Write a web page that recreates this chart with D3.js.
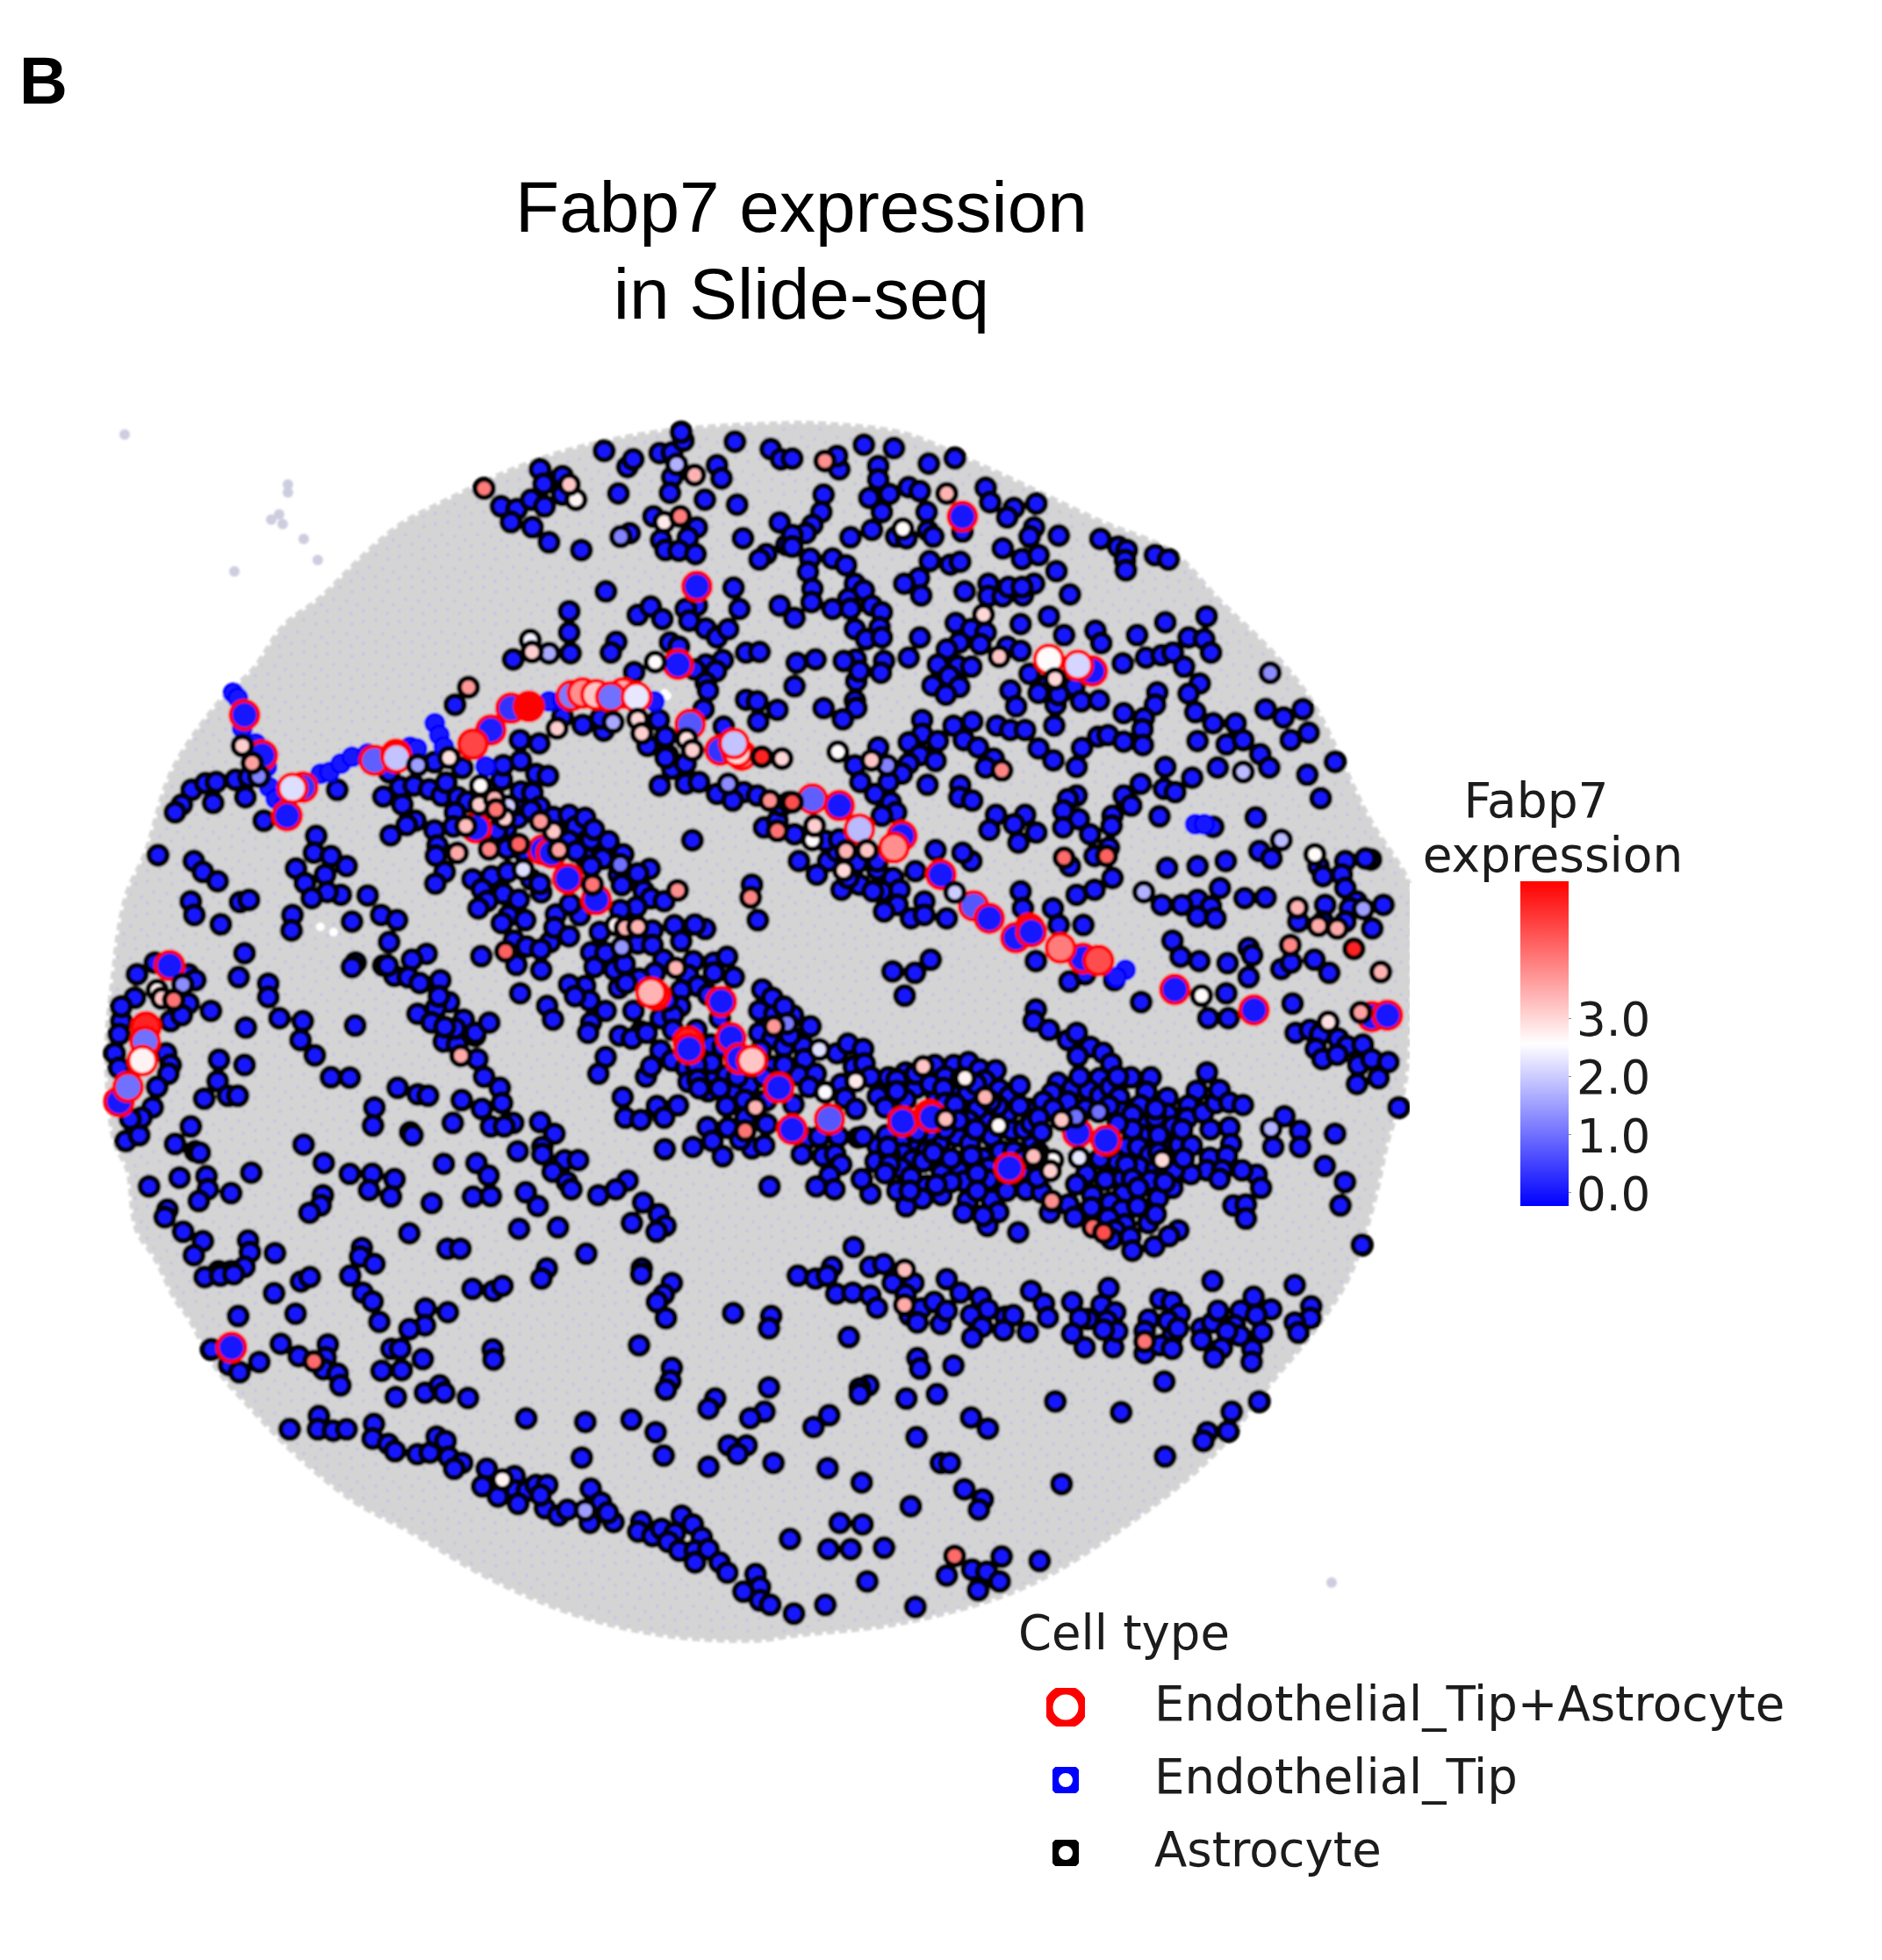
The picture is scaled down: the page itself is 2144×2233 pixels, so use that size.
<!DOCTYPE html>
<html><head><meta charset="utf-8"><style>html,body{margin:0;padding:0;background:#fff}svg{display:block}</style>
<script src="https://cdn.jsdelivr.net/npm/d3@7/dist/d3.min.js"></script></head><body><svg id="c" width="2144" height="2233"></svg>
<script>
// Tissue outline
const tissueOutline=[[900,483],[763,491],[661,510],[590,533],[508,571],[457,598],[416,632],[365,682],[324,713],[289,763],[253,797],[197,878],[166,973],[146,1016],[136,1060],[131,1100],[122,1200],[131,1300],[146,1333],[156,1400],[177,1433],[202,1483],[215,1500],[246,1557],[292,1610],[338,1657],[404,1710],[465,1743],[557,1797],[659,1840],[761,1863],[863,1868],[900,1863],[1034,1847],[1168,1807],[1279,1740],[1382,1657],[1449,1573],[1503,1507],[1538,1450],[1565,1367],[1580,1300],[1600,1233],[1606,1060],[1606,1012],[1558,931],[1497,805],[1456,751],[1390,686],[1334,629],[1252,594],[1155,548],[1104,525],[1028,494],[925,483]];
const strayBeads=[[142,495],[328,552],[328,561],[318,586],[309,592],[322,597],[346,614],[362,638],[267,651],[1517,1803]];
const tissueGaps=[[760,793],[757,790],[365,1056],[380,1062],[1530,1340],[1080,1340]];

// Cell positions per photographed area (crop-read coordinates)
const astroA=[[1153,140],[1205,188],[1218,165],[1277,147],[1305,145],[1330,110],[1325,85],[1445,113],[1525,135],[1548,165],[1405,183],[1415,222],[1305,218],[1300,265],[1185,267],[1378,285],[1450,300],[1010,195],[1018,238],[1060,215],[1060,270],[923,305],[958,313],[990,285],[1020,305],[945,352],[993,367],[1030,412],[1102,435],[1263,335],[1360,368],[1340,398],[1280,405],[1290,435],[1320,437],[1357,447],[1463,400],[1515,447],[1500,463],[1545,353],[1210,385],[1560,420],[1157,558],[1442,547],[1455,610],[1360,600],[1335,610],[1075,617],[1075,680],[1078,742],[1228,628],[1257,603],[1283,640],[1343,645],[1380,668],[1405,695],[1430,670],[1545,600],[1568,635],[1180,708],[1168,740],[950,760],[1300,710],[1320,722],[1470,740],[1500,738],[1380,775],[1418,762],[1355,790],[1403,795],[1380,830],[1385,853],[1220,798],[1470,880],[1495,885],[1540,910],[1497,945],[1375,908],[1568,840],[1420,960],[820,895],[1060,930],[1105,955],[1152,972],[1145,935],[1008,1010],[965,1000],[1250,1017],[1275,940],[1290,990],[1295,1045],[1305,1085],[1335,1070],[1275,1135],[1335,1130],[1365,1125],[1405,1160],[1465,1155],[1440,1180],[1495,1165],[1510,1260],[1540,1240],[1550,1195],[1350,1298],[232,1148],[263,1128],[287,1125],[330,1118],[360,1110],[352,1170],[280,1187],[210,1192],[195,1215],[393,1240],[557,1148],[773,1065],[745,1110],[715,1105],[688,1140],[660,1168],[700,1190],[690,1130],[755,1135],[800,1130],[840,1090],[930,1075],[968,1062],[1005,1100],[1025,1107],[965,1155],[925,1160],[785,1165],[820,1165],[735,1240],[700,1260],[675,1290],[775,1270],[820,1220],[770,1215],[775,1340],[780,1425],[798,1395],[857,1415],[900,1410],[882,1445],[938,1395],[960,1475],[895,1480],[870,1505],[940,1530],[980,1540],[1040,1520],[1075,1490],[1130,1540],[1010,1200],[965,1275],[1000,1290],[1075,1225],[1115,1240],[1130,1270],[1160,1305],[1075,1305],[1140,1355],[1040,1405],[990,1420],[1190,1425],[1215,1370],[1255,1385],[1230,1415],[1260,1470],[1225,1500],[1195,1510],[1290,1480],[1305,1540],[157,1342],[237,1360],[257,1392],[290,1420],[230,1480],[238,1520],[340,1482],[360,1475],[297,1548],[457,1520],[465,1382],[485,1425],[530,1400],[510,1285],[505,1335],[543,1345],[578,1375],[565,1460],[535,1452],[625,1462],[590,1540],[655,1520],[690,1540],[500,1470],[1500,1520],[1483,1430],[1010,1160],[1065,1180],[1185,1310],[1100,1350],[1130,1400],[1160,1440],[1100,1440],[1040,1460],[1010,1340],[850,1360],[930,1340],[1020,1500],[1260,1430],[1200,1470],[1340,1540],[1020,1380]];
const astroB=[[165,122],[232,132],[310,178],[368,162],[197,185],[110,195],[105,155],[5,163],[197,225],[75,270],[177,280],[222,268],[265,248],[290,260],[437,250],[447,293],[550,297],[500,310],[485,338],[205,322],[305,322],[70,322],[50,360],[35,385],[5,390],[5,425],[183,375],[135,397],[237,395],[260,400],[308,378],[320,395],[385,380],[545,368],[535,395],[600,392],[475,430],[518,462],[555,450],[693,402],[733,425],[752,435],[748,465],[750,495],[815,450],[845,463],[595,498],[625,567],[45,460],[95,460],[125,480],[40,500],[145,535],[50,550],[165,555],[48,590],[95,610],[130,580],[135,610],[183,600],[205,620],[145,670],[200,665],[170,700],[205,695],[10,637],[290,695],[312,468],[358,478],[380,470],[288,518],[255,535],[293,570],[390,558],[443,535],[443,572],[475,573],[488,545],[520,570],[545,535],[518,545],[578,632],[515,655],[370,652],[405,670],[437,680],[425,715],[378,710],[350,730],[485,722],[515,735],[330,775],[375,780],[405,782],[355,810],[318,838],[378,842],[348,865],[265,755],[210,765],[203,800],[147,760],[120,765],[148,825],[155,795],[57,760],[15,770],[10,840],[145,883],[75,905],[148,905],[118,938],[612,688],[682,675],[695,712],[775,688],[838,650],[930,632],[890,695],[925,700],[940,740],[743,772],[795,755],[830,748],[855,740],[880,782],[535,803],[635,840],[575,835],[555,860],[492,852],[505,900],[593,895],[600,865],[650,885],[690,882],[590,957],[915,832],[890,862],[905,917],[820,858],[815,895],[745,920],[790,935],[787,968],[788,1015],[945,950],[995,950],[910,1003],[975,1013],[1012,1000],[1050,1042],[1070,1082],[1062,908],[1102,933],[1145,908],[1158,978],[1118,1000],[1217,1065],[1155,1103],[1185,1173],[295,940],[365,957],[407,945],[295,982],[265,1007],[330,1003],[388,1000],[420,1022],[462,957],[492,970],[525,970],[555,1025],[588,1060],[640,1080],[652,1023],[688,990],[710,985],[745,1005],[455,1055],[437,1082],[197,1022],[290,1045],[325,1062],[265,1070],[145,1075],[250,1100],[157,1125],[190,1160],[220,1125],[225,1185],[237,1215],[205,1225],[307,1133],[380,1135],[378,1170],[407,1180],[838,1080],[835,1145],[860,1155],[783,1130],[898,1112],[955,1082],[640,1165],[620,1175],[645,1235],[610,1210],[610,1260],[670,1280],[745,1165],[762,1195],[720,1225],[718,1255],[825,1227],[945,1258],[1040,1230],[712,1320],[460,1222],[525,1222],[500,1250],[445,1268],[550,1275],[510,1305],[325,1327],[405,1360],[385,1335],[625,1375],[680,1345],[720,1410],[680,1445],[640,1460],[842,1380],[910,1375],[973,1360],[1048,1330],[1075,1352],[1180,1375],[1190,1405],[1240,1360],[1232,1400],[1297,1355],[1240,1440],[1265,1480],[1285,1352],[20,1360],[85,1360],[105,1330],[10,1280],[80,1300],[110,1295],[150,1365],[195,1385],[230,1410],[280,1390],[115,1445],[155,1430],[205,1450],[245,1445],[195,1360],[240,1490],[270,1530],[300,1480],[350,1530],[185,1450],[515,1450],[520,1500],[587,1500],[655,1550],[600,1550],[960,1440],[910,1475],[875,1490],[830,1490],[940,1495],[910,1525],[1015,1470],[1062,1468],[950,1530],[1135,1540],[1195,1490],[1250,1500],[1325,1490],[1190,1540],[1240,1540],[1300,1560],[60,1400],[130,1410],[300,1520],[210,1510]];
const astroC=[[455,180],[350,258],[337,340],[403,362],[403,408],[275,455],[428,480],[353,512],[480,490],[475,555],[507,607],[597,505],[293,622],[350,640],[543,682],[585,683],[290,695],[260,755],[313,745],[335,745],[230,850],[195,910],[240,935],[250,940],[85,900],[115,880],[110,330],[105,410],[75,490],[70,535],[150,290],[225,330],[240,350],[225,430],[185,490],[210,470],[60,600],[70,650],[175,600],[185,640],[180,670],[155,715],[145,785],[120,820],[95,825],[75,440],[598,290],[590,305],[660,300],[690,335],[725,275],[755,255],[740,360],[720,340],[785,350],[780,405],[805,430],[735,465],[770,475],[800,490],[840,490],[820,520],[895,495],[865,540],[795,560],[825,570],[870,620],[885,680],[920,718],[925,770],[880,790],[900,850],[950,838],[930,850],[1010,835],[1042,875],[960,935],[1015,920],[1015,945],[1065,965],[1095,965],[1038,1005],[1070,1040],[1080,1065],[1140,1085],[1180,1065],[1205,1035],[1240,1110],[1275,1150],[1290,1190],[1270,1210],[1215,1180],[692,718],[737,740],[760,745],[835,760],[815,838],[640,785],[637,847],[720,870],[725,880],[482,912],[527,975],[585,1012],[635,1012],[685,1030],[628,1068],[677,1090],[768,1112],[795,978],[868,975],[895,1018],[860,1090],[900,1088],[978,1075],[1005,1122],[963,1200],[1050,1195],[525,1085],[520,1120],[495,1145],[205,1025],[265,1020],[268,1065],[248,1105],[320,1078],[365,1008],[137,1055],[178,1135],[172,1160],[213,1210],[257,1242],[237,1290],[358,1240],[362,1280],[350,1330],[320,1345],[292,1345],[265,1355],[418,1283],[718,1215],[803,1268],[832,1268],[1113,1285],[612,1265],[608,1295],[640,1320],[585,1350],[500,1350],[475,1375],[415,1418],[610,1415],[635,1445],[860,1405],[905,1410],[925,1390],[1025,1335],[1012,1365],[1237,1335],[1305,1385],[1280,1430],[1290,930],[1355,925]];
const astroD=[[745,285],[820,355],[855,330],[920,350],[980,425],[1110,285],[1173,292],[1220,340],[1170,395],[1293,312],[1367,280],[1400,325],[1318,430],[1130,480],[1175,480],[1325,530],[1357,520],[1380,535],[1370,585],[1385,620],[1420,550],[1440,575],[1475,570],[1418,605],[1465,640],[1495,620],[1532,630],[1462,705],[1510,685],[1555,785],[1127,660],[745,450],[740,490],[770,520],[800,510],[820,555],[840,520],[868,575],[890,600],[840,610],[910,630],[1050,215],[1068,270],[1220,240],[1228,265],[1315,290],[425,320],[475,325],[510,280],[452,403],[1300,815],[1335,865],[1335,920],[1275,920],[1413,875],[1390,985],[1435,1040],[1425,1120],[1473,1255],[1140,1375],[1322,1392],[220,1350],[260,1360],[290,1330],[375,1330],[405,1320],[150,1055],[255,1050],[285,1020],[295,1070],[350,1025],[378,1085],[435,1065],[455,1125],[490,1095],[535,1080],[585,1145],[590,1100],[640,1155],[635,1185],[660,1140],[640,1100],[705,1210],[338,1262]];
const astroE=[[65,15],[100,10],[130,5],[280,30],[300,15],[390,10],[220,70],[140,148],[268,140],[418,68],[440,98],[455,168],[558,122],[608,135],[557,180],[522,193],[663,55],[710,62],[730,45],[817,20],[1040,5],[1108,35],[1090,75],[1075,100],[1095,155],[1245,138],[1330,148],[1325,190],[80,262],[235,243],[275,285],[340,245],[335,290],[330,330],[362,345],[368,385],[120,315],[143,340],[187,305],[482,260],[502,260],[552,295],[460,335],[505,333],[708,262],[710,297],[1035,248],[1108,325],[1105,370],[1095,400],[492,425],[557,410],[590,385],[600,410],[653,428],[1325,392],[1205,430],[1190,465],[1315,475],[1283,497],[320,490],[255,535],[318,535],[352,540],[382,535],[443,517],[440,567],[475,585],[490,610],[540,620],[568,615],[583,560],[603,575],[610,630],[640,650],[622,670],[783,498],[915,510],[1018,502],[1072,545],[907,632],[1090,625],[1235,590],[1275,590],[1255,620],[1190,663],[1335,650],[695,670],[685,730],[720,765],[757,695],[760,745],[785,745],[805,725],[830,725],[765,790],[825,805],[855,830],[815,760],[875,810],[927,738],[950,785],[925,855],[978,852],[965,820],[1040,850],[1033,885],[1065,900],[1085,875],[1130,830],[1155,860],[1115,890],[1100,920],[1125,950],[1175,905],[1160,950],[1190,945],[1160,990],[1215,990],[1232,1025],[1295,1030],[1305,1075],[1268,1090],[1305,1120],[1328,1135]];
const astroF=[[20,10],[65,20],[95,10],[118,72],[160,68],[205,78],[222,120],[262,35],[315,35],[400,22],[295,75],[305,145],[335,122],[325,170],[385,175],[368,100],[400,130],[435,68],[487,85],[505,125],[462,145],[550,150],[570,145],[490,185],[465,222],[545,197],[607,203],[615,62],[648,105],[658,153],[720,100],[813,52],[795,110],[830,135],[760,158],[740,155],[808,165],[720,208],[752,255],[825,255],[835,200],[800,195],[945,90],[975,100],[995,140],[915,160],[965,165],[905,200],[905,275],[975,220],[945,248],[975,260],[990,190],[1050,190],[1078,170],[1050,230],[1092,130],[1150,130],[1183,82],[1228,125],[1190,145],[1135,180],[1148,215],[1205,203],[1115,200],[1102,258],[1082,290],[1180,262],[1178,305],[1078,28],[1288,42],[1330,115],[1328,155],[1288,170],[1297,205],[150,220],[325,292],[332,328],[417,317],[200,385],[178,395],[178,415],[297,430],[375,415],[462,495],[505,533],[323,562],[60,527],[100,487],[96,668],[183,717],[308,798],[385,650],[408,650],[445,740],[492,775],[482,810],[693,722],[677,440],[845,477],[955,372],[1127,475],[1197,440],[1065,545],[1118,542],[1055,575],[957,628],[127,855],[185,860],[98,945],[155,945],[240,940],[540,970],[465,1015],[502,1022],[400,1035],[535,1055],[480,1085],[637,985],[197,1055],[90,1135],[320,1142],[10,1165],[0,910]];
const astroG=[[10,60],[48,110],[95,105],[147,118],[190,140],[205,95],[260,45],[165,25],[245,145],[278,160],[235,197],[230,245],[165,258],[100,225],[55,170],[70,240],[15,275],[175,310],[170,345],[200,400],[168,440],[295,425],[360,415],[415,400],[327,460],[400,475],[345,500],[315,525],[453,495],[418,550],[395,575],[475,565],[437,635],[480,655],[445,718],[530,735],[560,640],[528,665],[580,545],[575,590],[625,620],[662,548],[628,510],[725,605],[530,470],[495,425],[525,440],[413,320],[470,330],[410,250],[378,260],[450,215],[455,170],[460,125],[395,85],[400,35],[460,20],[513,65],[553,72],[500,130],[525,178],[495,190],[572,212],[625,205],[648,245],[680,215],[625,295],[700,290],[710,255],[760,295],[740,355],[680,350],[700,380],[810,340],[795,410],[805,445],[900,390],[860,405],[880,465],[905,490],[855,520],[930,545],[950,500],[915,600],[860,650],[910,650],[945,705],[800,530],[750,680],[700,675],[712,725],[780,735],[815,715],[915,745],[680,790],[795,798],[625,785],[695,840],[645,825],[750,870],[845,875],[700,915],[690,950],[800,950],[870,945],[935,905],[550,858],[570,905],[458,815],[325,688],[138,680],[88,700],[28,755],[75,760],[115,780],[185,770],[215,845],[170,865],[180,825],[107,885],[155,915],[265,905],[305,950],[352,915],[235,935],[200,930],[37,565],[10,640],[5,720],[935,105],[955,10],[650,330]];
const astroH=[[265,42],[370,55],[335,40],[10,65],[190,60],[140,105],[190,110],[288,97],[30,137],[60,195],[95,175],[228,160],[330,165],[400,170],[445,150],[400,205],[468,220],[75,257],[198,205],[312,213],[345,250],[288,265],[145,225],[565,262],[285,320],[380,280],[555,335],[607,345],[670,350],[730,388],[125,335],[30,335],[218,360],[260,350],[420,360],[260,400],[150,405],[78,420],[120,430],[170,410],[217,470],[257,505],[305,530],[390,450],[392,513],[30,493],[5,550],[168,560],[185,525],[313,578],[395,575],[380,610],[443,555],[470,605],[520,590],[555,410],[600,430],[640,457],[705,455],[710,500],[690,555],[748,550],[725,595],[605,525],[820,480],[858,447],[905,467],[878,525],[835,585],[848,633],[885,670],[940,560],[950,630],[88,630],[205,660],[277,658],[97,700],[150,708],[230,700],[443,660],[505,640],[508,700],[580,722],[672,655],[378,732],[448,735],[395,780],[328,800],[430,832],[530,805],[572,795],[490,775],[232,808],[720,770],[760,765],[825,765],[893,768],[700,825],[773,832],[815,825],[835,860],[795,897],[750,935],[812,945],[900,910],[945,850],[950,800],[590,935],[105,915],[65,945],[550,25],[240,300],[340,400],[340,520],[345,570],[430,460],[560,470],[570,560],[580,640],[640,520],[660,420],[480,560],[420,600],[350,600],[100,240],[600,290],[640,320]];
const astroI=[[10,45],[15,95],[155,125],[97,142],[215,140],[255,100],[320,100],[370,90],[408,115],[463,118],[290,140],[425,153],[190,178],[320,190],[368,195],[260,200],[60,207],[155,218],[85,245],[475,183],[510,207],[545,170],[505,262],[575,250],[610,280],[625,225],[660,250],[657,195],[675,160],[710,225],[430,293],[518,323],[620,330],[450,345],[330,343],[375,368],[270,365],[185,358],[138,365],[60,378],[480,395],[525,395],[418,418],[357,427],[147,403],[228,393],[180,425],[52,430],[138,452],[268,440],[335,460],[280,470],[173,483],[440,452],[438,492],[355,498],[602,483],[567,528],[620,535],[228,513],[127,530],[278,545],[212,557],[157,583],[35,540],[5,490],[368,563],[450,560],[600,578],[650,605],[472,603],[353,605],[435,650],[420,615],[540,672],[705,578],[10,345],[100,405],[35,140],[125,150],[125,190],[190,130],[240,165],[285,180],[345,145],[395,165],[290,230],[325,235],[400,250],[370,290],[335,290],[395,320],[290,320],[235,330],[195,330],[90,340],[95,380],[100,440],[215,430],[250,400],[310,420],[380,410],[400,470],[310,500],[260,510],[170,530],[85,470],[400,530],[500,530],[530,470],[570,460],[560,420],[590,360],[560,320],[665,300],[680,340],[690,380],[640,370],[650,520],[690,500],[700,440],[585,300],[545,240],[470,240],[445,225]];
const astroJ=[[45,10],[110,45],[140,20],[187,68],[230,88],[143,100],[258,125],[75,190],[125,210],[55,225],[218,175],[180,215],[220,235],[255,205],[325,172],[393,172],[378,222],[285,240],[110,255],[25,255],[60,280],[357,268],[295,290],[450,242],[450,297],[10,310],[380,332],[360,370],[470,340],[20,360],[310,408],[350,410],[443,400],[490,403],[533,405],[550,218],[522,268],[517,312],[572,293],[615,260],[628,215],[662,258],[708,267],[585,155],[597,350],[662,343],[668,400],[595,447],[653,440],[585,490],[637,490],[628,520],[530,503],[473,490],[390,437],[352,478],[410,487],[505,450],[467,550],[392,525],[418,585],[278,458],[220,450],[173,502],[238,522],[298,517],[138,538],[20,565],[5,515],[112,607],[193,575],[190,617],[48,635],[132,650],[300,570],[255,600],[295,625],[348,613],[248,653],[305,675],[385,670],[410,640],[270,695],[323,718],[405,750],[330,765],[487,695],[455,715],[258,725],[675,610],[718,607],[718,655],[755,505],[705,490],[770,550],[10,430],[150,170],[280,170],[250,270],[170,280],[330,300],[330,350],[280,330],[410,310],[420,370],[410,280],[310,470],[330,520],[350,550],[440,530],[500,350],[420,430],[250,410]];

// Astrocytes with a visible Fabp7 level: x, y, expression
const exprA=[[885,252,4],[1075,240,3.2],[1090,285,2.7],[1355,212,3.4],[1315,180,1.7],[1323,335,4],[1287,352,2.8],[1190,395,1.2],[988,703,2.4],[992,738,3.1],[1030,742,1.6],[850,843,3.7],[1267,768,2.6],[1228,938,3],[1048,965,3.1],[1237,980,3.1],[1173,947,1.6],[1337,997,2.9],[1350,1030,3.1],[1550,1055,3],[1505,1050,5],[1430,1130,1.3],[1523,1180,3.8],[1565,1185,4],[1540,1270,4.1],[345,1017,3.1],[367,1068,3.6],[382,1108,1.2],[737,1077,1.5],[805,1050,2.9],[1127,1433,3.7],[1317,1447,3.8],[1480,1468,3.9],[1187,1370,1]];
const exprB=[[78,170,3.8],[350,267,3.4],[252,372,2.6],[432,627,3],[467,752,3.2],[592,818,3],[1072,800,1.3],[1012,1095,1.8],[1097,1297,1.8],[1172,1340,2.6],[612,1350,4.2],[707,1345,4.3],[473,1090,3.9],[182,1060,3.2],[217,1075,1.2],[107,1035,2.6],[790,1452,1.7],[1133,1498,3.4],[1280,1502,1.5],[1180,1552,3.5],[1222,1560,3.5],[368,1453,2],[55,1255,3.1],[50,1297,2.6],[125,1330,3.4],[172,1328,3.2],[120,1388,3],[5,1185,4.5]];
const exprC=[[155,385,2.7],[165,412,3.2],[192,418,4.1],[212,365,1.3],[933,253,3.9],[833,608,3.5]];
const exprD=[[1115,403,2.6],[1398,493,2.9],[1270,857,1.7],[1470,460,3.6],[1313,230,3.9],[1455,243,5],[1515,322,3.4],[452,1340,3.3]];
const exprE=[[730,707,2.7],[915,812,1.5],[309,303,4.2]];
const exprF=[[292,110,3.5],[905,235,4.1],[420,968,4.2]];
const exprG=[[108,35,1.5],[215,10,2.9],[322,105,2.6],[318,170,3.1],[370,150,3.4],[375,187,4.1],[417,175,2],[405,217,3.1],[272,243,3.3],[243,335,3.5],[352,323,3.9],[453,305,4.3],[527,227,3.7],[572,262,3.2],[590,325,3.6],[468,392,2.2],[705,443,4.1],[800,375,1],[785,580,2.7],[817,592,3.4],[860,590,3.4],[803,660,1.2],[408,672,4.3]];
const exprH=[[65,42,2.7],[97,52,3.4],[140,48,3.4],[85,118,1.4],[270,188,3.4],[605,388,3.7],[650,378,1.1],[760,467,2.2],[885,575,2.8],[780,613,2.5],[542,665,3.4],[507,745,4.1]];
const exprI=[[215,105,3.2],[358,145,2.7],[427,210,3.4],[292,285,3.3],[473,307,2.6],[688,288,3.3],[592,412,3.3],[650,462,3.2],[655,428,2.5],[655,565,3.9]];
const exprJ=[[88,318,3.2],[137,307,1],[215,290,1],[148,447,2.3],[58,455,2.6],[50,492,3.1],[432,455,3],[55,595,3.8],[195,685,4.2],[232,703,4.5],[5,440,3.2]];

// Endothelial_Tip+Astrocyte cells in drawing order: x, y, expression
const pairA=[[1360,543,0],[1318,775,0],[1345,953,.7],[1412,1030,.3],[1460,1045,4],[1450,1035,3],[1443,1010,1.9],[350,925,0],[390,1045,0],[480,1140,.3],[457,1143,2.2],[640,1060,.8],[688,1043,1.8],[900,970,.1],[860,1012,4.6],[945,905,.3],[985,900,5.3],[1080,868,1.1],[1105,860,3.8],[1135,865,3.2],[1195,860,3.5],[1168,872,1],[1225,872,2.3],[445,1225,0]];
const pairB=[[385,335,0],[578,760,2.6],[675,795,0],[643,778,2.1],[50,1175,.8],[110,1195,0],[155,1265,1.8],[250,1285,0],[232,1320,3.8],[337,1400,0],[410,1493,.7],[445,1530,0],[535,1560,0]];
const pairC=[[183,300,0],[130,510,5],[128,560,1],[122,625,2.7],[70,765,0],[90,715,1]];
const pairD=[[1055,382,0],[1232,452,0],[700,205,0],[735,185,0],[850,275,0],[800,240,4],[885,283,4.5],[1495,475,0],[1530,470,0]];
const pairE=[[125,255,0]];
const pairG=[[35,10,1.9],[307,250,0],[535,325,0],[565,335,0],[620,423,0],[718,495,0],[905,815,3.4]];
const pairH=[[200,280,5],[185,272,3.4],[425,303,0],[312,440,5],[315,465,0],[458,427,0],[487,498,0],[530,505,3.2],[622,598,0],[667,740,0],[795,705,.7]];
const pairI=[[145,293,0],[235,270,0],[245,278,0],[510,452,0],[715,335,0]];
const pairJ=[[143,362,0],[240,388,0]];

// Endothelial_Tip cells: x, y
const tipA=[[325,860],[335,875],[345,965],[375,1010],[395,1050],[400,1080],[405,1140],[420,1175],[440,1195],[520,1100],[540,1095],[565,1070],[590,1050],[625,1040],[720,1020],[735,1025],[775,950],[785,985],[795,1020],[1030,885],[1060,880],[905,970],[1265,885]];
const tipB=[[905,1250],[925,1250]];
const tipD=[[945,315],[925,340]];
const tipG=[[340,40]];

const expressionTicks=[0,1,2,3];
const legendLabels=["Endothelial_Tip+Astrocyte","Endothelial_Tip","Astrocyte"];
const legendColors=["#ff0000","#0000ff","#000000"];

const svg=d3.select("#c");
const defs=svg.append("defs");
const blur=(id,s)=>defs.append("filter").attr("id",id).attr("x","-5%").attr("y","-5%").attr("width","110%").attr("height","110%").append("feGaussianBlur").attr("stdDeviation",s);
blur("soft",1.2);blur("softText",.6);
// Texture only: the densely packed background beads, not individual readings
const pat=defs.append("pattern").attr("id","beads").attr("patternUnits","userSpaceOnUse").attr("width",41).attr("height",37);
pat.append("rect").attr("width",41).attr("height",37).attr("fill","#d4d4d4");
[[4,5],[18,3],[32,8],[11,17],[26,19],[38,23],[4,30],[18,28],[31,33]].forEach(([x,y])=>pat.append("circle").attr("cx",x).attr("cy",y).attr("r",1.7).attr("fill","#bfbfe8"));

const color=d3.scaleLinear().domain([-0.24,2.56,5.36]).range(["#0000ff","#ffffff","#ff0000"]);
const zones=[];
const area=(ox,oy,kx,ky,x0,x1,y0,y1,isZone)=>{
  const sx=d3.scaleLinear().domain([0,1000]).range([ox,ox+1000/kx]),sy=d3.scaleLinear().domain([0,1000]).range([oy,oy+1000/ky]);
  const before=zones.slice();
  if(isZone)zones.push([x0,x1,y0,y1]);
  const inside=(d,z)=>d.x>=z[0]&&d.x<z[1]&&d.y>=z[2]&&d.y<z[3];
  return {place:a=>a.map(d=>({x:sx(d[0]),y:sy(d[1]),v:d.length>2?d[2]:0})).filter(d=>inside(d,[x0,x1,y0,y1])&&!before.some(z=>inside(d,z)))};
};
// close-up crops take priority over the wider crops
const J=area(1180,1170,3,3,1180,1440,1170,1430,true),I=area(980,1180,3,3,980,1220,1180,1420,true),
      H=area(680,1040,3,3,680,1000,1040,1360,true),G=area(440,860,3,3,440,760,860,1180,true);
const A=area(100,460,1.96,2.61,0,900,0,1060),B=area(900,460,1.96,2.61,900,1640,0,1060),
      C=area(100,1000,1.96,3,0,900,1060,1450),D=area(800,1000,1.96,3,900,1640,1060,1450),
      E=area(200,1450,1.96,3,0,900,1450,2000),F=area(900,1450,2.24,3,900,1640,1450,2000);

const plot=svg.append("g").attr("filter","url(#soft)");
const ol=d3.line().curve(d3.curveCatmullRomClosed.alpha(.5));
plot.append("path").attr("d",ol(tissueOutline)).attr("fill","url(#beads)").attr("stroke","#d4d4d4").attr("stroke-width",7).attr("stroke-dasharray","9 5").attr("stroke-linejoin","round");
plot.selectAll(".gap").data(tissueGaps).join("circle").attr("class","gap").attr("cx",d=>d[0]).attr("cy",d=>d[1]).attr("r",5).attr("fill","#fff");
plot.selectAll(".stray").data(strayBeads).join("circle").attr("class","stray").attr("cx",d=>d[0]).attr("cy",d=>d[1]).attr("r",6).attr("fill","#cdcde0");

const typed=(t,l)=>l.map(d=>Object.assign(d,{t}));
const astros=typed("astro",[...A.place(astroA),...B.place(astroB),...C.place(astroC),...D.place(astroD),...E.place(astroE),...F.place(astroF),...G.place(astroG),...H.place(astroH),...I.place(astroI),...J.place(astroJ)]);
const expr=typed("astro",[...A.place(exprA),...B.place(exprB),...C.place(exprC),...D.place(exprD),...E.place(exprE),...F.place(exprF),...G.place(exprG),...H.place(exprH),...I.place(exprI),...J.place(exprJ)]);
const tips=typed("tip",[...A.place(tipA),...B.place(tipB),...D.place(tipD),...G.place(tipG)]);
const pairs=typed("pair",[...A.place(pairA),...B.place(pairB),...C.place(pairC),...D.place(pairD),...E.place(pairE),...G.place(pairG),...H.place(pairH),...I.place(pairI),...J.place(pairJ)]);
const marks=[...astros,...tips,...pairs,...d3.sort(expr,d=>d.v)];
const R={astro:10.5,tip:10.5,pair:16},W={astro:6,tip:3,pair:4.5},S={astro:"#000",tip:"#0000ff",pair:"#ff0000"};
plot.append("g").selectAll("circle").data(marks).join("circle").attr("cx",d=>d.x).attr("cy",d=>d.y).attr("r",d=>R[d.t]).attr("fill",d=>color(d.v)).attr("stroke",d=>S[d.t]).attr("stroke-width",d=>W[d.t]);

svg.append("rect").attr("x",1606).attr("y",1006).attr("width",60).attr("height",400).attr("fill","#fff");

const txt=(x,y,s,size,fam,w,anchor,fill,filt)=>{const t=svg.append("text").attr("x",x).attr("y",y).text(s).attr("font-size",size).attr("font-family",fam).attr("font-weight",w||400).attr("text-anchor",anchor||"start").attr("fill",fill||"#000");if(filt)t.attr("filter","url(#softText)");return t;};
const arial="'Liberation Sans',Arial,sans-serif",dv="'DejaVu Sans',sans-serif";
txt(22,118,"B",76,arial,700);
txt(913,264,"Fabp7 expression",82,arial,400,"middle");
txt(913,363,"in Slide-seq",82,arial,400,"middle");

txt(1750,931,"Fabp7",55,dv,400,"middle","#1a1a1a","softText");
txt(1769,993,"expression",55,dv,400,"middle","#1a1a1a","softText");
const g=defs.append("linearGradient").attr("id","bar").attr("x1",0).attr("x2",0).attr("y1",1).attr("y2",0);
color.domain().forEach(v=>g.append("stop").attr("offset",(v+0.24)/5.6).attr("stop-color",color(v)));
svg.append("rect").attr("x",1732).attr("y",1004).attr("width",55).attr("height",370).attr("fill","url(#bar)");
const barScale=d3.scaleLinear().domain([-0.24,5.36]).range([1374,1004]);
const ax=svg.append("g").attr("transform","translate(1787,0)").attr("filter","url(#softText)").call(d3.axisRight(barScale).tickValues(expressionTicks).tickFormat(d3.format(".1f")).tickSize(3).tickPadding(6));
ax.select(".domain").remove();
ax.selectAll("text").attr("font-size",53).attr("font-family",dv).attr("fill","#1a1a1a").attr("y",3);
ax.selectAll("line").attr("stroke","#888");

txt(1160,1879,"Cell type",54.5,dv,400,"start","#1a1a1a","softText");
const legY=d3.scalePoint().domain(legendLabels).range([1945,2111]);
const ring=[[19.5,10],[13.5,11],[13.5,11]];
legendLabels.forEach((l,i)=>{
  svg.append("circle").attr("cx",1214).attr("cy",legY(l)).attr("r",ring[i][0]).attr("fill","#fff").attr("stroke",legendColors[i]).attr("stroke-width",ring[i][1]).attr("filter","url(#softText)");
  txt(1315,legY(l)+15,l,54.5,dv,400,"start","#1a1a1a","softText");
});
</script></body></html>
